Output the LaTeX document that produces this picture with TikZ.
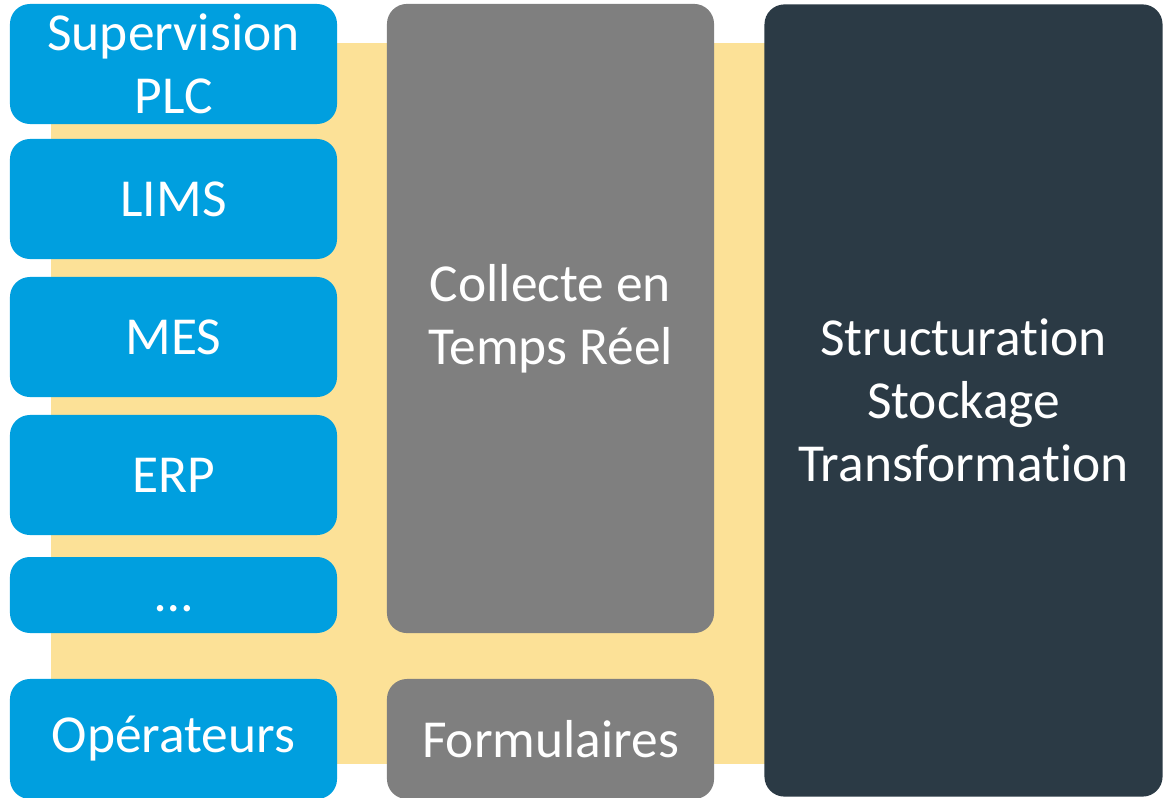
\documentclass[tikz,border=0pt]{standalone}
\usepackage{fontspec}
\setmainfont[Ligatures={NoCommon}]{Carlito}
\usepackage{tikz}
\usetikzlibrary{positioning}
\usepackage{xcolor}
\definecolor{cblue}{HTML}{009FDF}
\definecolor{cgray}{HTML}{7F7F7F}
\definecolor{cdark}{HTML}{2B3A45}
\definecolor{cyellow}{HTML}{FCE197}

\begin{document}
\begin{tikzpicture}[x=0.025cm, y=-0.025cm,
  every node/.style={font=\fontsize{38}{45}\selectfont, text=white,
    align=center, inner sep=0pt, rounded corners=0.5cm},
  srcbox/.style={fill=cblue, minimum width=8.175cm, minimum height=3cm},
  grisbox/.style={fill=cgray, minimum width=8.175cm},
  darkbox/.style={fill=cdark, minimum width=9.95cm, minimum height=19.8cm}]
\useasboundingbox (0,0) rectangle (1163,797);
% =================== background band ===================
\fill[cyellow] (51,43) rectangle (765,764);
% =================== sources ===================
\node[srcbox] (sup)  at (173.5,64)  {Supervision\\PLC};
\node[srcbox] (lims) at (173.5,199) {LIMS};
\node[srcbox] (mes)  at (173.5,337) {MES};
\node[srcbox] (erp)  at (173.5,475) {ERP};
\node[srcbox, minimum height=1.9cm] (etc) at (173.5,595) {\vphantom{L}\dots};
\node[srcbox] (oper) at (173.5,739) {Opérateurs};
% =================== collection ===================
\node[grisbox, minimum height=15.725cm] (collecte) at (550.5,318.5)
   {\vphantom{L}Collecte en\\Temps Réel\vphantom{p}};
\node[grisbox, minimum height=3cm] (formul) at (550.5,739) {Formulaires};
% =================== storage ===================
\node[darkbox] (stock) at (963.5,400.5)
   {Structuration\\Stockage\\Transformation};
\end{tikzpicture}
\end{document}
